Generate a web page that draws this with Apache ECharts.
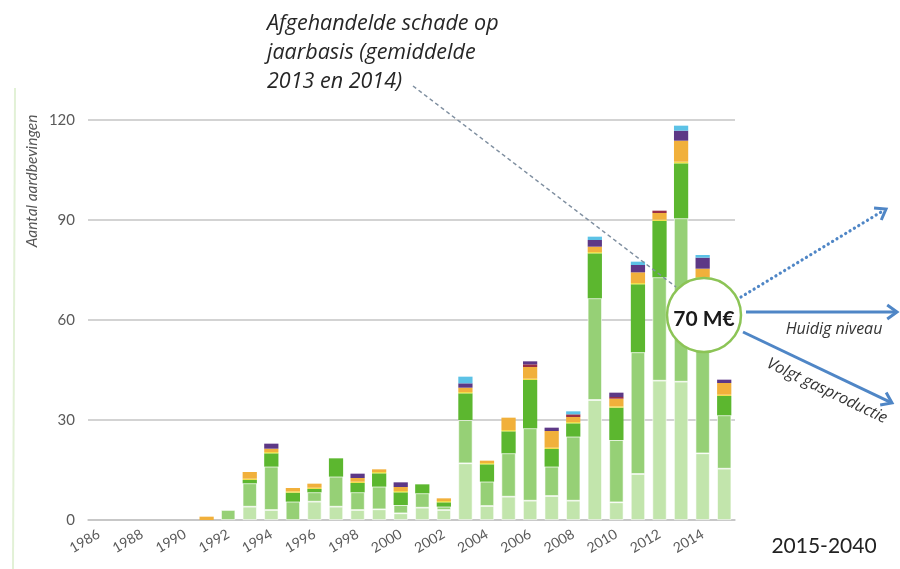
<!DOCTYPE html>
<html>
<head>
<meta charset="utf-8">
<script src="https://cdn.jsdelivr.net/npm/echarts@6/dist/echarts.min.js"></script>
<style>
  html, body { margin: 0; padding: 0; background: #fff; }
  #chart { width: 900px; height: 569px; }
</style>
</head>
<body>
<div id="chart"></div>
<script>
// Years on the category axis
const years = [];
for (let y = 1986; y <= 2015; y++) years.push(String(y));

// Y-axis ticks
const yTicks = [0, 30, 60, 90, 120];

// Stacked counts per year, bottom segment first
const palest = [0,0,0,0,0, 0,0,4,3,0, 5.5,4,3,3.2,2, 3.7,3,17,4.2,7, 5.8,7.2,5.8,36,5.3, 13.8,41.8,41.5,20,15.4];
const light  = [0,0,0,0,0, 0,3,7,13,5.5, 2.8,9,5.3,6.8,2.5, 4.3,1,13,7.3,13, 21.7,8.8,19.2,30.5,18.7, 36.5,31,49,34,16];
const bright = [0,0,0,0,0, 0,0,1,4,2.7, 1,5.5,2.8,4,3.8, 2.7,1.3,8,5.2,6.6, 14.5,5.3,4,13.5,9.7, 20.4,16.9,16.5,18.5,5.8];
const yellow = [0,0,0,0,0, 0,0,0.4,0.4,0.4, 0.4,0,0.4,0.4,0.4, 0,0.4,0.4,0.4,0.4, 0.4,0.4,0.4,0.4,0.4, 0.4,0.4,0.5,0.4,0.4];
const orange = [0,0,0,0,0, 1,0,2,1,1, 1.2,0,1.1,0.8,1.2, 0,0.8,1.3,0.7,3.7, 3.5,5,1.5,1.6,2.3, 3.2,2,6.3,2.5,3.5];
const maroon = [0,0,0,0,0, 0,0,0,0,0, 0,0,0,0,0, 0,0,0,0,0, 0.8,0,0.8,0,0.5, 0,0.7,0,0,0];
const purple = [0,0,0,0,0, 0,0,0,1.5,0, 0,0,1.3,0,1.4, 0,0,1.3,0,0, 0.9,1,0,2,1.3, 2.2,0,3,3.3,1];
const cyan   = [0,0,0,0,0, 0,0,0,0,0, 0,0,0,0,0, 0,0,2,0,0, 0,0,0.9,1,0, 1,0,1.5,0.8,0];

const layers = [
  { name: 'palest', data: palest, color: '#c2e5ac', sep: true },
  { name: 'light',  data: light,  color: '#96d076', sep: true },
  { name: 'bright', data: bright, color: '#5cb72f', sep: false },
  { name: 'yellow', data: yellow, color: '#f1df4c', sep: false },
  { name: 'orange', data: orange, color: '#f1b03b', sep: false },
  { name: 'maroon', data: maroon, color: '#9a2f45', sep: false },
  { name: 'purple', data: purple, color: '#5d3886', sep: false },
  { name: 'cyan',   data: cyan,   color: '#5cc2e6', sep: false }
];

const FONT = 'Lato, "Open Sans", sans-serif';
const NOTE_FONT = '"Open Sans", Lato, sans-serif';
const BLUE = '#4f86c6';

// Arrow shaft plus an open chevron head
function arrow(x1, y1, x2, y2, dotted) {
  const ang = Math.atan2(y2 - y1, x2 - x1);
  const len = 12, spread = 0.62;
  const h1 = [x2 - len * Math.cos(ang - spread), y2 - len * Math.sin(ang - spread)];
  const h2 = [x2 - len * Math.cos(ang + spread), y2 - len * Math.sin(ang + spread)];
  return [
    {
      type: 'line', z: 20,
      shape: { x1: x1, y1: y1, x2: x2 - 2 * Math.cos(ang), y2: y2 - 2 * Math.sin(ang) },
      style: dotted
        ? { stroke: BLUE, lineWidth: 3.2, lineDash: [0.1, 5], lineCap: 'round' }
        : { stroke: BLUE, lineWidth: 3 }
    },
    {
      type: 'polyline', z: 20,
      shape: { points: [h1, [x2, y2], h2] },
      style: { stroke: BLUE, lineWidth: 3, fill: null, lineJoin: 'miter' }
    }
  ];
}

const chart = echarts.init(document.getElementById('chart'), null, { renderer: 'canvas' });

chart.setOption({
  backgroundColor: '#ffffff',
  animation: false,
  grid: { left: 88, right: 165, top: 120, bottom: 49 },
  xAxis: {
    type: 'category',
    data: years,
    axisTick: { show: false },
    axisLine: { lineStyle: { color: '#c4c4c4', width: 1.5 } },
    axisLabel: {
      interval: 1, rotate: 30, margin: 13,
      color: '#5a5a5a', fontSize: 14, fontFamily: FONT
    }
  },
  yAxis: {
    type: 'value',
    min: yTicks[0], max: yTicks[yTicks.length - 1], interval: yTicks[1] - yTicks[0],
    axisLine: { show: false },
    axisTick: { show: false },
    axisLabel: { color: '#5a5a5a', fontSize: 15, margin: 13, fontFamily: FONT },
    splitLine: { lineStyle: { color: '#c4c4c4', width: 1.5 } }
  },
  series: layers.map(l => ({
    type: 'bar',
    name: l.name,
    stack: 'total',
    barWidth: '66%',
    // empty years draw nothing
    data: l.data.map(v => (v === 0 ? '-' : v)),
    itemStyle: l.sep
      ? { color: l.color, borderColor: 'rgba(255,255,255,0.75)', borderWidth: 0.8 }
      : { color: l.color }
  })),
  graphic: [
    // faint slide edge
    {
      type: 'line', z: 1,
      shape: { x1: 15, y1: 88, x2: 13, y2: 569 },
      style: { stroke: '#e2f1d6', lineWidth: 2 }
    },
    // y-axis title
    {
      type: 'text', z: 10, x: 32, y: 181, rotation: Math.PI / 2,
      style: {
        text: 'Aantal aardbevingen', fill: '#555',
        font: 'italic 15.5px ' + FONT, textAlign: 'center', textVerticalAlign: 'middle'
      }
    },
    // callout text
    {
      type: 'text', z: 10, x: 267, y: 9,
      style: {
        text: 'Afgehandelde schade op\njaarbasis (gemiddelde\n2013 en 2014)',
        fill: '#262626', font: 'italic 21.5px ' + NOTE_FONT, lineHeight: 29
      }
    },
    // leader line to the circle
    {
      type: 'line', z: 15,
      shape: { x1: 413, y1: 86, x2: 676, y2: 287 },
      style: { stroke: '#7f8fa0', lineWidth: 1.5, lineDash: [4, 3] }
    },
    ...arrow(741, 297, 886, 209, true),
    ...arrow(746, 312, 897, 312, false),
    ...arrow(743, 332, 892, 403, false),
    // circle with the amount
    {
      type: 'circle', z: 30,
      shape: { cx: 704, cy: 315, r: 37 },
      style: { fill: '#ffffff', stroke: '#8cc456', lineWidth: 2.5 }
    },
    {
      type: 'text', z: 31, x: 704, y: 319,
      style: {
        text: '70 M€', fill: '#1a1a1a', font: 'bold 21px ' + FONT,
        textAlign: 'center', textVerticalAlign: 'middle'
      }
    },
    {
      type: 'text', z: 25, x: 834, y: 329,
      style: {
        text: 'Huidig niveau', fill: '#333', font: 'italic 16px ' + NOTE_FONT,
        textAlign: 'center', textVerticalAlign: 'middle'
      }
    },
    {
      type: 'text', z: 25, x: 827, y: 391, rotation: -0.447,
      style: {
        text: 'Volgt gasproductie', fill: '#333', font: 'italic 16px ' + NOTE_FONT,
        textAlign: 'center', textVerticalAlign: 'middle'
      }
    },
    {
      type: 'text', z: 25, x: 824, y: 546,
      style: {
        text: '2015-2040', fill: '#222', font: '21px ' + FONT,
        textAlign: 'center', textVerticalAlign: 'middle'
      }
    }
  ]
});
</script>
</body>
</html>
